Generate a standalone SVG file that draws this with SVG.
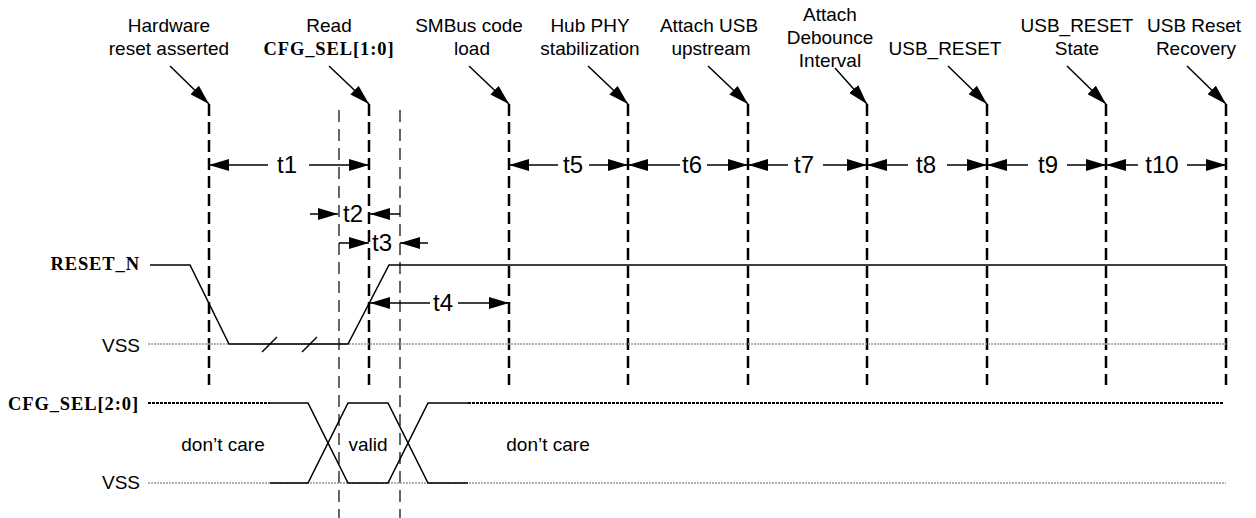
<svg xmlns="http://www.w3.org/2000/svg" width="1256" height="518" viewBox="0 0 1256 518">
<defs>
<marker id="ah" markerUnits="userSpaceOnUse" markerWidth="20" markerHeight="12" refX="20" refY="6" orient="auto">
<path d="M0,0 L20,6 L0,12 z" fill="#000"/>
</marker>
<style>
.lbl{font-family:"Liberation Sans",Arial,sans-serif;font-size:19px;fill:#000;text-anchor:middle}
.sig{font-family:"Liberation Serif","Times New Roman",serif;font-size:18.5px;font-weight:bold;fill:#000;letter-spacing:0.9px}
.vss{font-family:"Liberation Sans",Arial,sans-serif;font-size:19px;fill:#000;text-anchor:end}
.tl{font-family:"Liberation Sans",Arial,sans-serif;font-size:24px;fill:#000;text-anchor:middle}
.thick{stroke:#000;stroke-width:2.5;stroke-dasharray:12 6;fill:none}
.thin{stroke:#000;stroke-width:1.2;stroke-dasharray:12 7;fill:none}
.arr{stroke:#000;stroke-width:1.5;fill:none;marker-end:url(#ah)}
.dim{stroke:#000;stroke-width:1.5;fill:none}
.wave{stroke:#000;stroke-width:1.5;fill:none}
.gnd{stroke:#999;stroke-width:1.5;stroke-dasharray:2 1;fill:none}
.dc{stroke:#000;stroke-width:2;stroke-dasharray:3 1;fill:none}
</style>
</defs>
<rect width="1256" height="518" fill="#fff"/>

<g id="event-labels">
<g id="ev-hw"><text class="lbl" x="169" y="32">Hardware</text><text class="lbl" x="169" y="55">reset asserted</text></g>
<g id="ev-read"><text class="lbl" x="329" y="32">Read</text><text class="sig" x="329" y="55" text-anchor="middle">CFG_SEL[1:0]</text></g>
<g id="ev-smbus"><text class="lbl" x="469" y="32">SMBus code</text><text class="lbl" x="472" y="55">load</text></g>
<g id="ev-hub"><text class="lbl" x="590" y="32">Hub PHY</text><text class="lbl" x="590" y="55">stabilization</text></g>
<g id="ev-attach"><text class="lbl" x="709" y="32">Attach USB</text><text class="lbl" x="711" y="55">upstream</text></g>
<g id="ev-debounce"><text class="lbl" x="830" y="21">Attach</text><text class="lbl" x="830" y="44">Debounce</text><text class="lbl" x="830" y="67">Interval</text></g>
<g id="ev-usbreset"><text class="lbl" x="945" y="55">USB_RESET</text></g>
<g id="ev-usbstate"><text class="lbl" x="1077" y="32">USB_RESET</text><text class="lbl" x="1077" y="55">State</text></g>
<g id="ev-recovery"><text class="lbl" x="1194" y="32">USB Reset</text><text class="lbl" x="1196" y="55">Recovery</text></g>
</g>

<g id="signal-labels">
<text class="sig" x="140" y="270" text-anchor="end">RESET_N</text>
<text class="vss" x="140" y="352">VSS</text>
<text class="sig" x="139" y="410" text-anchor="end">CFG_SEL[2:0]</text>
<text class="vss" x="140" y="489">VSS</text>
</g>

<g id="markers">
<line class="thick" x1="209" y1="104" x2="209" y2="385"/>
<line class="thick" x1="369" y1="104" x2="369" y2="385"/>
<line class="thick" x1="509" y1="104" x2="509" y2="385"/>
<line class="thick" x1="628" y1="104" x2="628" y2="385"/>
<line class="thick" x1="748" y1="104" x2="748" y2="385"/>
<line class="thick" x1="867" y1="104" x2="867" y2="385"/>
<line class="thick" x1="987" y1="104" x2="987" y2="385"/>
<line class="thick" x1="1106" y1="104" x2="1106" y2="385"/>
<line class="thick" x1="1226" y1="104" x2="1226" y2="385"/>
<line class="thin" x1="339" y1="110" x2="339" y2="518"/>
<line class="thin" x1="400" y1="110" x2="400" y2="518"/>
</g>

<g id="connectors">
<line class="arr" x1="170" y1="66" x2="209" y2="104"/>
<line class="arr" x1="329" y1="66" x2="369" y2="104"/>
<line class="arr" x1="469" y1="66" x2="509" y2="104"/>
<line class="arr" x1="588" y1="66" x2="628" y2="104"/>
<line class="arr" x1="708" y1="66" x2="748" y2="104"/>
<line class="arr" x1="835" y1="68" x2="867" y2="104"/>
<line class="arr" x1="948" y1="66" x2="987" y2="104"/>
<line class="arr" x1="1067" y1="66" x2="1106" y2="104"/>
<line class="arr" x1="1187" y1="66" x2="1226" y2="104"/>
</g>

<g id="timings">
<line class="arr" x1="268" y1="165" x2="209" y2="165"/>
<line class="arr" x1="309" y1="165" x2="369" y2="165"/>
<text class="tl" x="287" y="173">t1</text>

<line class="arr" x1="310" y1="214" x2="338" y2="214"/>
<line class="arr" x1="400" y1="214" x2="370" y2="214"/>
<text class="tl" x="353" y="222">t2</text>

<line class="arr" x1="339" y1="243" x2="369" y2="243"/>
<line class="arr" x1="428" y1="243" x2="400" y2="243"/>
<text class="tl" x="382" y="251">t3</text>

<line class="arr" x1="430" y1="303" x2="370" y2="303"/>
<line class="arr" x1="458" y1="303" x2="509" y2="303"/>
<text class="tl" x="443" y="311">t4</text>

<line class="arr" x1="558" y1="165" x2="509" y2="165"/>
<line class="arr" x1="589" y1="165" x2="628" y2="165"/>
<text class="tl" x="573" y="173">t5</text>

<line class="arr" x1="680" y1="165" x2="628" y2="165"/>
<line class="arr" x1="707" y1="165" x2="748" y2="165"/>
<text class="tl" x="692" y="173">t6</text>

<line class="arr" x1="788" y1="165" x2="748" y2="165"/>
<line class="arr" x1="823" y1="165" x2="867" y2="165"/>
<text class="tl" x="804" y="173">t7</text>

<line class="arr" x1="908" y1="165" x2="867" y2="165"/>
<line class="arr" x1="947" y1="165" x2="987" y2="165"/>
<text class="tl" x="926" y="173">t8</text>

<line class="arr" x1="1028" y1="165" x2="987" y2="165"/>
<line class="arr" x1="1067" y1="165" x2="1106" y2="165"/>
<text class="tl" x="1048" y="173">t9</text>

<line class="arr" x1="1138" y1="165" x2="1106" y2="165"/>
<line class="arr" x1="1187" y1="165" x2="1226" y2="165"/>
<text class="tl" x="1162" y="173">t10</text>
</g>

<g id="reset-n">
<line class="gnd" x1="148" y1="344" x2="1226" y2="344"/>
<polyline class="wave" points="150,265 190,265 229,344 348,344 389,265 1226,265"/>
<line class="wave" x1="262" y1="352" x2="277" y2="337"/>
<line class="wave" x1="302" y1="352" x2="317" y2="337"/>
</g>

<g id="cfg-sel">
<line class="gnd" x1="148" y1="483" x2="1226" y2="483"/>
<line class="dc" x1="148" y1="403" x2="270" y2="403"/>
<line class="dc" x1="468" y1="403" x2="1224" y2="403"/>
<polyline class="wave" points="270,403 308,403 348,483 388,483 428,403 468,403"/>
<polyline class="wave" points="270,483 308,483 348,403 388,403 428,483 468,483"/>
<text class="lbl" x="223" y="451">don’t care</text>
<text class="lbl" x="368" y="451">valid</text>
<text class="lbl" x="548" y="451">don’t care</text>
</g>
</svg>
